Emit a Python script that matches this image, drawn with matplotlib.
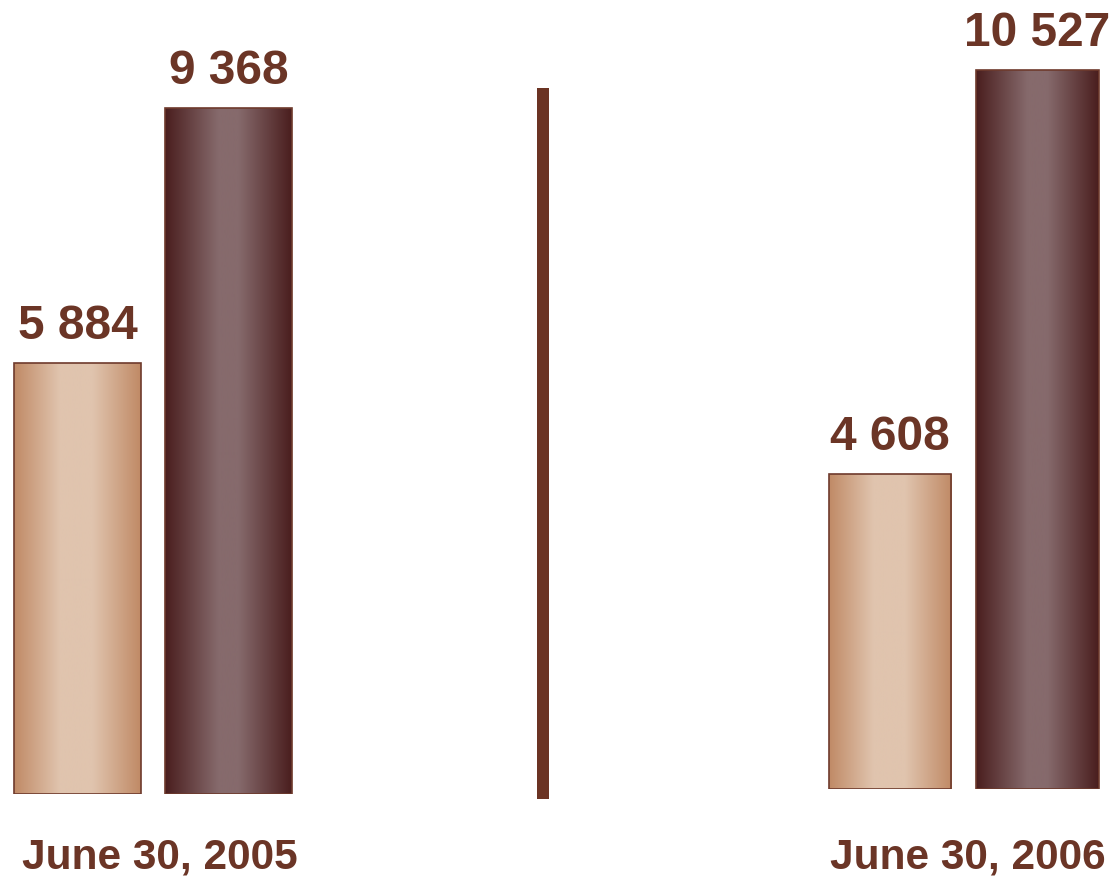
import matplotlib.pyplot as plt
import numpy as np
from matplotlib.colors import LinearSegmentedColormap
from matplotlib.lines import Line2D

plt.rcParams['font.family'] = ['Liberation Sans', 'DejaVu Sans']

# Values at each date: (light bar, dark bar)
dates = ['June 30, 2005', 'June 30, 2006']
light_vals = [5884, 4608]
dark_vals = [9368, 10527]
value_labels = [['5 884', '9 368'], ['4 608', '10 527']]

TEXT = '#6b3526'
EDGE = '#6e3a2c'

light_cmap = LinearSegmentedColormap.from_list(
    'light', [(0, '#c08a66'), (0.36, '#e0c4ae'), (0.62, '#e0c4ae'), (1, '#c08a66')])
dark_cmap = LinearSegmentedColormap.from_list(
    'dark', [(0, '#4a1e1e'), (0.42, '#866a6c'), (0.58, '#866a6c'), (1, '#4a1e1e')])

W, H = 1113, 878
fig = plt.figure(figsize=(W / 100, H / 100), dpi=100)


def px_axes(x0, x1, base):
    # axes from the bar baseline (pixels from top) up to the top edge
    return fig.add_axes([x0 / W, (H - base) / H, (x1 - x0) / W, base / H])


def gradient_bars(ax, vals, cmaps, width):
    xs = np.arange(len(vals))
    bars = ax.bar(xs, vals, width=width, facecolor='none', edgecolor=EDGE,
                  linewidth=1.2, zorder=3)
    grad = np.linspace(0, 1, 256).reshape(1, -1)
    for b, cm in zip(bars, cmaps):
        x0 = b.get_x()
        im = ax.imshow(grad, cmap=cm, aspect='auto', zorder=2,
                       extent=[x0, x0 + b.get_width(), 0, b.get_height()])
        im.set_clip_path(b)
    return bars


# left panel: 0.0732 px per unit, right panel: 0.0683 px per unit
panels = [
    dict(x0=0, x1=310, base=795, scale=0.0732, unit=151.0, c0=77.5, width=0.84),
    dict(x0=810, x1=1113, base=790, scale=0.0683, unit=147.5, c0=890.0, width=0.83),
]

label_x = [160, 968]

for i, p in enumerate(panels):
    ax = px_axes(p['x0'], p['x1'], p['base'])
    left = -(p['c0'] - p['x0']) / p['unit']
    ax.set_xlim(left, left + (p['x1'] - p['x0']) / p['unit'])
    ax.set_ylim(0, p['base'] / p['scale'])
    bars = gradient_bars(ax, [light_vals[i], dark_vals[i]],
                         [light_cmap, dark_cmap], p['width'])
    for b, lab in zip(bars, value_labels[i]):
        ax.annotate(lab, (b.get_x() + b.get_width() / 2, b.get_height()),
                    xytext=(0, 18), textcoords='offset points',
                    ha='center', va='baseline', fontsize=34.5,
                    fontweight='bold', color=TEXT, annotation_clip=False)
    ax.axis('off')
    fig.text(label_x[i] / W, (H - 869) / H, dates[i], ha='center',
             va='baseline', fontsize=30.5, fontweight='bold', color=TEXT)

# vertical divider between the two dates
fig.add_artist(Line2D([543 / W, 543 / W], [(H - 89) / H, (H - 800) / H],
                      color='#6b3323', linewidth=12 * 0.72,
                      solid_capstyle='butt'))

fig.savefig('out.png', dpi=100)
